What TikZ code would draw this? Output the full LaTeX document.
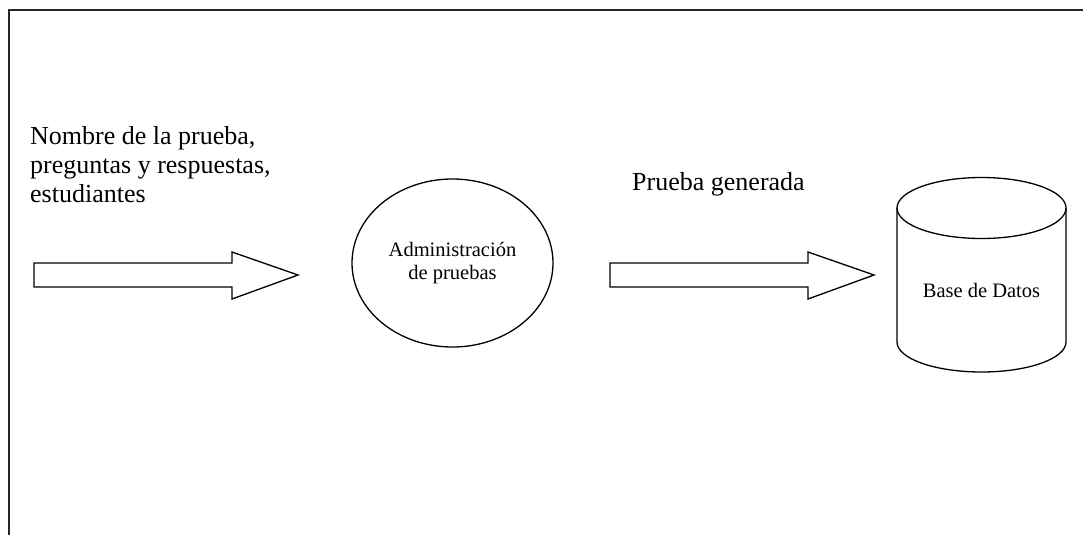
\documentclass[tikz,border=0pt]{standalone}
\usepackage{fontspec}
\setmainfont{Liberation Serif}
\usetikzlibrary{shapes.geometric}
\begin{document}
\begin{tikzpicture}[x=1pt,y=-1pt,
  outline/.style={draw=black,line width=1.3pt,line join=miter},
  bigtext/.style={font=\fontsize{26}{29}\selectfont,inner sep=0pt},
  smalltext/.style={font=\fontsize{20.5}{23}\selectfont,inner sep=0pt}]
\useasboundingbox (0,0) rectangle (1083,535);
% frame
\draw[line width=1.6pt,draw=black!85] (9,535) -- (9,10) -- (1083,10);
% labels
\node[bigtext,anchor=north west,align=left] (inlabel) at (30,126) {Nombre de la prueba,\\preguntas y respuestas,\\estudiantes};
\node[bigtext,anchor=base west] (outlabel) at (632,190) {Prueba generada};
% block arrows
\draw[outline] (34,263) -- (232,263) -- (232,252) -- (298,275) -- (232,299) -- (232,287) -- (34,287) -- cycle;
\draw[outline] (610,263) -- (808,263) -- (808,252) -- (874,275) -- (808,299) -- (808,287) -- (610,287) -- cycle;
% process
\node[ellipse,outline,minimum width=201pt,minimum height=168pt,inner sep=0pt,smalltext,align=center] (proc) at (452.5,263) {Administración\\de pruebas};
% database
\draw[outline] (897,208) -- (897,342) arc[start angle=180,end angle=0,x radius=84.5,y radius=30] -- (1066,208);
\draw[outline] (981.5,208) ellipse[x radius=84.5,y radius=30.5];
\node[smalltext] (db) at (981.5,290) {Base de Datos};
\end{tikzpicture}
\end{document}
